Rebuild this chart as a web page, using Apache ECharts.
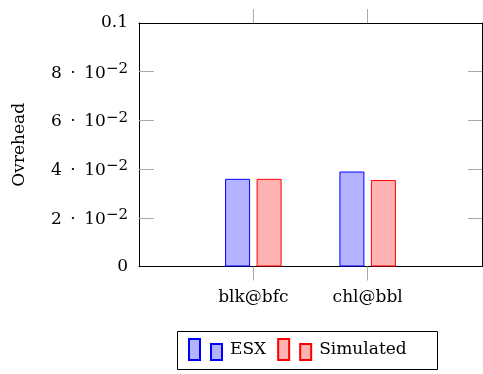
<!DOCTYPE html>
<html>
<head>
<meta charset="utf-8">
<script src="https://cdn.jsdelivr.net/npm/echarts@6/dist/echarts.min.js"></script>
<style>
  html, body { margin: 0; padding: 0; background: #fff; }
  #chart { width: 483px; height: 374px; }
</style>
</head>
<body>
<div id="chart"></div>
<script>
// Benchmarks (padded with empty slots so the two groups sit at 1/3 and 2/3 of the axis)
const categories = ['', 'blk@bfc', 'chl@bbl', ''];
const esxValues = ['-', 0.036, 0.039, '-'];
const simulatedValues = ['-', 0.036, 0.0355, '-'];
const seriesNames = ['ESX', 'Simulated'];

// Y axis ticks and their labels ("^" marks the exponent part)
const yTickValues = [0, 0.02, 0.04, 0.06, 0.08, 0.1];
const yTickLabels = ['0', '2\u2002·\u200210^−2', '4\u2002·\u200210^−2', '6\u2002·\u200210^−2', '8\u2002·\u200210^−2', '0.1'];
const yInnerTicks = [0.02, 0.04, 0.06, 0.08];
const xTickSlots = [1, 2];

const FONT = "'DejaVu Serif', serif";
const TICK_GRAY = '#aaaaaa';
const TICK_LEN = 14;
const barIcon = 'path://M0,0L11,0L11,21L0,21Z M22,5L33,5L33,21L22,21Z';

function yLabel(v) {
  const i = yTickValues.findIndex(t => Math.abs(t - v) < 1e-9);
  if (i < 0) return '';
  const parts = yTickLabels[i].split('^');
  if (parts.length === 1) return parts[0];
  return '{m|' + parts[0] + '}{s|' + parts[1] + '}';
}

const chart = echarts.init(document.getElementById('chart'), null, { renderer: 'canvas' });

chart.setOption({
  animation: false,
  backgroundColor: '#fff',
  textStyle: { fontFamily: FONT },
  grid: {
    left: 139, right: 1, top: 23, bottom: 107.5,
    containLabel: false,
    outerBoundsMode: 'none'
  },
  xAxis: [
    {
      // bottom axis carrying the benchmark names
      type: 'category',
      data: categories,
      boundaryGap: false,
      position: 'bottom',
      axisLine: { onZero: false, lineStyle: { color: '#000', width: 1 } },
      axisTick: { show: false },
      axisLabel: {
        interval: 0, margin: 23, color: '#000',
        fontFamily: FONT, fontSize: 17
      },
      splitLine: { show: false }
    },
    {
      // top frame line with outward ticks
      type: 'category',
      data: categories,
      boundaryGap: false,
      position: 'top',
      axisLine: { onZero: false, lineStyle: { color: '#000', width: 1 } },
      axisTick: {
        show: true, length: TICK_LEN, inside: false,
        customValues: xTickSlots,
        lineStyle: { color: TICK_GRAY, width: 1 }
      },
      axisLabel: { show: false },
      splitLine: { show: false }
    },
    {
      // bottom outward ticks: a hidden-line axis shifted down, ticks pointing back up
      type: 'category',
      data: categories,
      boundaryGap: false,
      position: 'bottom',
      offset: TICK_LEN,
      axisLine: { show: false, onZero: false },
      axisTick: {
        show: true, length: TICK_LEN, inside: true,
        customValues: xTickSlots,
        lineStyle: { color: TICK_GRAY, width: 1 }
      },
      axisLabel: { show: false },
      splitLine: { show: false }
    }
  ],
  yAxis: [
    {
      type: 'value',
      min: 0, max: 0.1, interval: 0.02,
      name: 'Ovrehead',
      nameLocation: 'middle',
      nameRotate: 90,
      nameGap: 111,
      nameTextStyle: { fontFamily: FONT, fontSize: 17, color: '#000' },
      axisLine: { show: true, onZero: false, lineStyle: { color: '#000', width: 1 } },
      axisTick: {
        show: true, inside: true, length: 15,
        customValues: yInnerTicks,
        lineStyle: { color: TICK_GRAY, width: 1 }
      },
      axisLabel: {
        margin: 11, color: '#000', fontFamily: FONT, fontSize: 17,
        formatter: yLabel,
        rich: {
          m: { fontFamily: FONT, fontSize: 17, lineHeight: 20, verticalAlign: 'bottom', color: '#000' },
          s: { fontFamily: FONT, fontSize: 15, lineHeight: 20, verticalAlign: 'top', color: '#000' }
        }
      },
      splitLine: { show: false }
    },
    {
      type: 'value',
      min: 0, max: 0.1, interval: 0.02,
      position: 'right',
      axisLine: { show: true, onZero: false, lineStyle: { color: '#000', width: 1 } },
      axisTick: {
        show: true, inside: true, length: 14,
        customValues: yInnerTicks,
        lineStyle: { color: TICK_GRAY, width: 1 }
      },
      axisLabel: { show: false },
      splitLine: { show: false }
    }
  ],
  legend: {
    data: seriesNames,
    left: 188,
    top: 338,
    padding: 0,
    icon: barIcon,
    itemWidth: 33,
    itemHeight: 21,
    itemGap: 11,
    textStyle: { fontFamily: FONT, fontSize: 17, color: '#000', padding: [2, 0, 0, 3] }
  },
  graphic: [
    {
      type: 'rect',
      shape: { x: 177.5, y: 331.5, width: 260, height: 38 },
      style: { fill: 'none', stroke: '#000', lineWidth: 1 },
      silent: true
    }
  ],
  series: [
    {
      name: seriesNames[0],
      type: 'bar',
      xAxisIndex: 0,
      yAxisIndex: 0,
      data: esxValues,
      barWidth: 25,
      barGap: '26%',
      itemStyle: { color: '#b3b3ff', borderColor: '#0000ff', borderWidth: 1 }
    },
    {
      name: seriesNames[1],
      type: 'bar',
      xAxisIndex: 0,
      yAxisIndex: 0,
      data: simulatedValues,
      barWidth: 25,
      barGap: '26%',
      itemStyle: { color: '#ffb3b3', borderColor: '#ff0000', borderWidth: 1 }
    }
  ]
});
</script>
</body>
</html>
